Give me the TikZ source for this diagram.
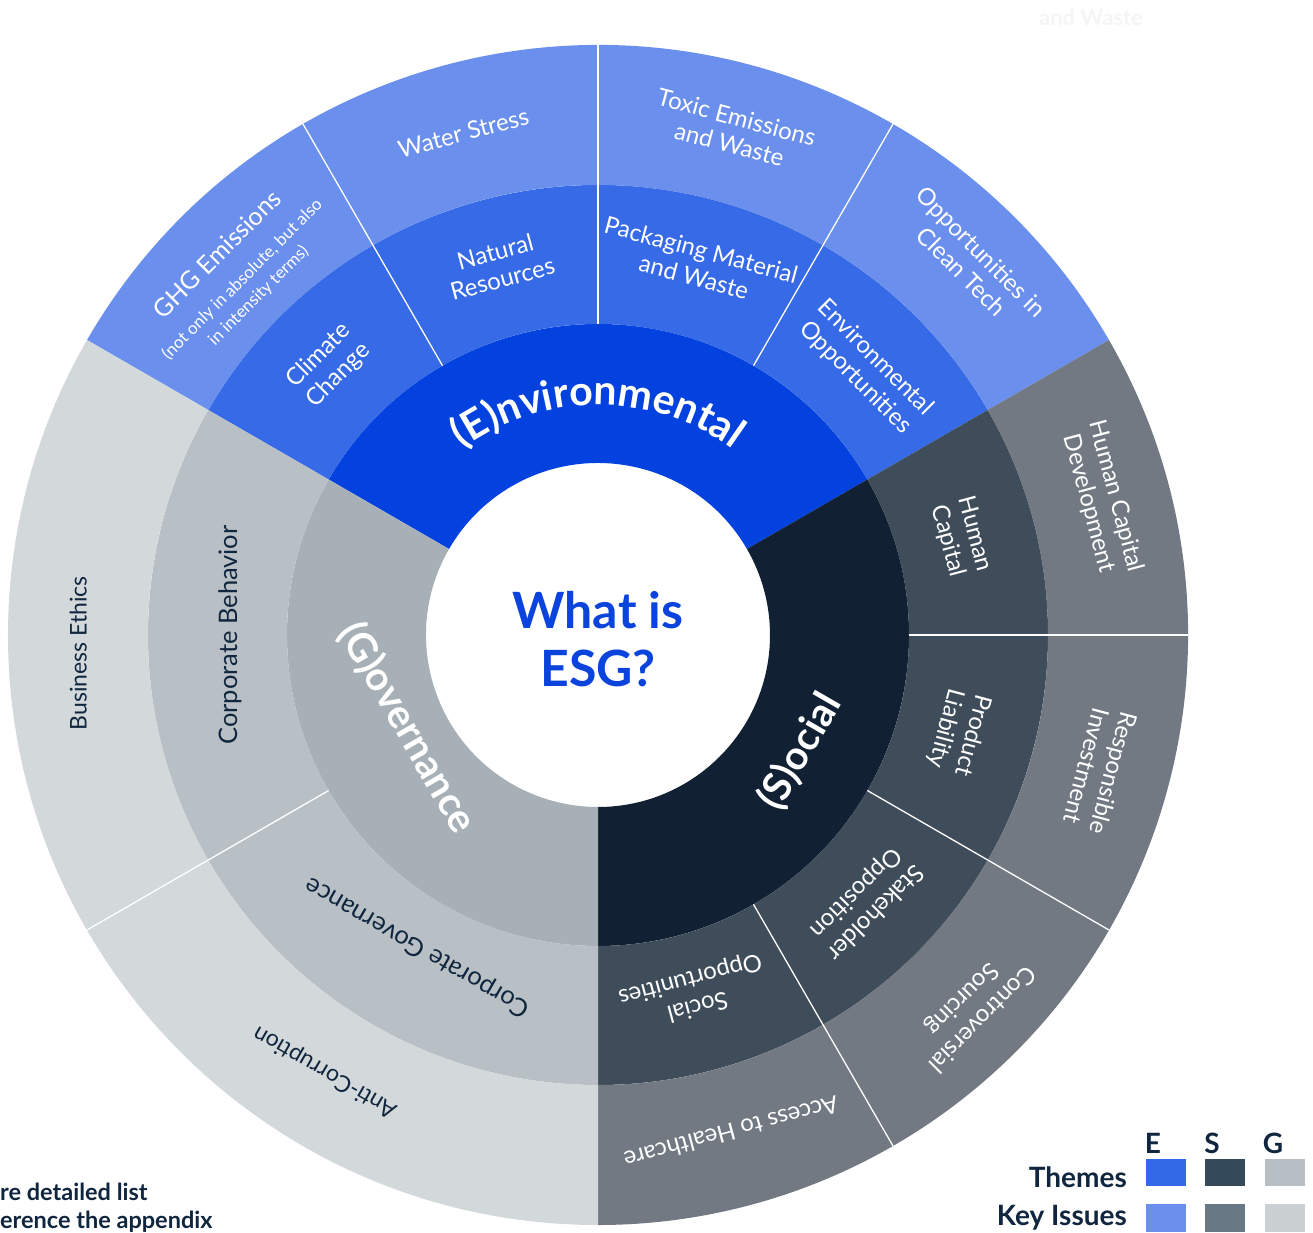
\documentclass[tikz,border=0pt]{standalone}
\usepackage{fontspec}
\setmainfont{Lato}
\usetikzlibrary{decorations.text}
\definecolor{e_pillar}{RGB}{3,66,222}
\definecolor{e_theme}{RGB}{54,106,230}
\definecolor{e_issue}{RGB}{106,143,236}
\definecolor{s_pillar}{RGB}{18,32,51}
\definecolor{s_theme}{RGB}{63,77,91}
\definecolor{s_issue}{RGB}{114,121,131}
\definecolor{g_pillar}{RGB}{167,176,182}
\definecolor{g_theme}{RGB}{184,192,197}
\definecolor{g_issue}{RGB}{211,216,219}
\definecolor{title_blue}{RGB}{10,68,220}
\definecolor{text_navy}{RGB}{16,38,62}
\definecolor{key_e_theme}{RGB}{51,104,230}
\definecolor{key_s_theme}{RGB}{52,74,90}
\definecolor{key_g_theme}{RGB}{184,191,196}
\definecolor{key_e_issue}{RGB}{106,143,236}
\definecolor{key_s_issue}{RGB}{104,120,133}
\definecolor{key_g_issue}{RGB}{203,208,211}
\definecolor{ghost}{RGB}{244,245,246}

\begin{document}
\begin{tikzpicture}[x=1pt,y=1pt]
    \tikzstyle{ringtext}=[text=white, align=center, inner sep=0pt, font=\fontsize{24}{28}\selectfont]
    \tikzstyle{g_ringtext}=[style=ringtext, text=text_navy]
    \tikzstyle{pillartext}=[text=white, inner sep=0pt, font=\fontsize{40}{44}\selectfont\bfseries]
    \tikzstyle{divider}=[white, line width=1.3pt]
    \tikzstyle{keytext}=[text=text_navy, inner sep=0pt, font=\fontsize{28}{32}\selectfont\bfseries]

    \useasboundingbox (-598,-597) rectangle (715,635);

    % rings: pillars, themes, key issues
    \fill[e_pillar] (30:172) arc[start angle=30,end angle=150,radius=172] -- (150:311) arc[start angle=150,end angle=30,radius=311] -- cycle;
    \fill[s_pillar] (-90:172) arc[start angle=-90,end angle=30,radius=172] -- (30:311) arc[start angle=30,end angle=-90,radius=311] -- cycle;
    \fill[g_pillar] (150:172) arc[start angle=150,end angle=270,radius=172] -- (270:311) arc[start angle=270,end angle=150,radius=311] -- cycle;
    \fill[e_theme] (30:311) arc[start angle=30,end angle=150,radius=311] -- (150:450) arc[start angle=150,end angle=30,radius=450] -- cycle;
    \fill[s_theme] (-90:311) arc[start angle=-90,end angle=30,radius=311] -- (30:450) arc[start angle=30,end angle=-90,radius=450] -- cycle;
    \fill[g_theme] (150:311) arc[start angle=150,end angle=270,radius=311] -- (270:450) arc[start angle=270,end angle=150,radius=450] -- cycle;
    \fill[e_issue] (30:450) arc[start angle=30,end angle=150,radius=450] -- (150:590) arc[start angle=150,end angle=30,radius=590] -- cycle;
    \fill[s_issue] (-90:450) arc[start angle=-90,end angle=30,radius=450] -- (30:590) arc[start angle=30,end angle=-90,radius=590] -- cycle;
    \fill[g_issue] (150:450) arc[start angle=150,end angle=270,radius=450] -- (270:590) arc[start angle=270,end angle=150,radius=590] -- cycle;

    % white dividers between themes
    \draw[divider] (120:311) -- (120:590);
    \draw[divider] (90:311) -- (90:590);
    \draw[divider] (60:311) -- (60:590);
    \draw[divider] (0:311) -- (0:590);
    \draw[divider] (-30:311) -- (-30:590);
    \draw[divider] (-60:311) -- (-60:590);
    \draw[divider] (210:311) -- (210:590);

    \node[text=title_blue, align=center, inner sep=0pt, font=\fontsize{50}{58}\selectfont\bfseries] (title) at (0,-4) {What is\\ESG?};

    % pillar names
    \path[decorate, decoration={text along path, text align=center, text color=white,
        text={|\fontsize{41}{44}\selectfont\bfseries|(E)nvironmental}}]
        (160:230) arc[start angle=160,end angle=20,radius=230];
    \node[pillartext, rotate=60]  (social) at (-30:233) {(S)ocial};
    \node[pillartext, rotate=-60] (gov)    at (206:212) {(G)overnance};

    % themes
    \node[ringtext, rotate=45]   (climate)   at (135:381) {Climate\\Change};
    \node[ringtext, rotate=15]   (natres)    at (105:383) {Natural\\Resources};
    \node[ringtext, rotate=-15]  (packaging) at (75:385)  {Packaging Material\\and Waste};
    \node[ringtext, rotate=-45]  (envopp)    at (45:378)  {Environmental\\Opportunities};
    \node[ringtext, rotate=-75]  (humcap)    at (15:376)  {Human\\Capital};
    \node[ringtext, rotate=-105] (prodliab)  at (-15:374) {Product\\Liability};
    \node[ringtext, rotate=-135] (stakeopp)  at (-45:378) {Stakeholder\\Opposition};
    \node[ringtext, rotate=-165] (socopp)    at (-75:370) {Social\\Opportunities};
    \node[g_ringtext, rotate=150, font=\fontsize{25.5}{28}\selectfont] (corpgov) at (240:360) {Corporate Governance};
    \node[g_ringtext, rotate=90, font=\fontsize{25.5}{28}\selectfont]  (corpbeh) at (180:368) {Corporate Behavior};

    % key issues
    \node[ringtext, rotate=45, font=\fontsize{17}{23}\selectfont] (ghg) at (135:510)
        {{\fontsize{25}{28}\selectfont GHG Emissions}\\[9pt](not only in absolute, but also\\in intensity terms)};
    \node[ringtext, rotate=15]   (water)     at (105:520) {Water Stress};
    \node[ringtext, rotate=-15]  (toxic)     at (75:522)  {Toxic Emissions\\and Waste};
    \node[ringtext, rotate=-45]  (cleantech) at (45:528)  {Opportunities in\\Clean Tech};
    \node[ringtext, rotate=-75]  (hcdev)     at (15:522)  {Human Capital\\Development};
    \node[ringtext, rotate=-105] (respinv)   at (-15:520) {Responsible\\Investment};
    \node[ringtext, rotate=-135] (contsrc)   at (-45:528) {Controversial\\Sourcing};
    \node[ringtext, rotate=-165] (access)    at (-75:515) {Access to Healthcare};
    \node[g_ringtext, rotate=150, font=\fontsize{23}{26}\selectfont] (anticorr)  at (238:515) {Anti-Corruption};
    \node[g_ringtext, rotate=90, font=\fontsize{23}{26}\selectfont]  (busethics) at (182:520) {Business Ethics};

    % cut-off texts at the edges
    \node[text=ghost, inner sep=0pt, font=\fontsize{22}{26}\selectfont\bfseries] (ghostwaste) at (493,618) {and Waste};
    \node[keytext, anchor=west, font=\fontsize{23.5}{27}\selectfont\bfseries] (note1) at (-598,-557) {re detailed list};
    \node[keytext, anchor=west, font=\fontsize{23.5}{27}\selectfont\bfseries] (note2) at (-598,-587) {erence the appendix};

    % legend
    \node[keytext] (key_e) at (555,-508) {E};
    \node[keytext] (key_s) at (614,-508) {S};
    \node[keytext] (key_g) at (675,-508) {G};
    \node[keytext, anchor=east] (key_themes) at (529,-542) {Themes};
    \node[keytext, anchor=east] (key_issues) at (529,-583) {Key Issues};
    \fill[key_e_theme] (548,-524) rectangle (588,-551);
    \fill[key_s_theme] (607,-524) rectangle (647,-551);
    \fill[key_g_theme] (667,-524) rectangle (707,-551);
    \fill[key_e_issue] (548,-569) rectangle (588,-597);
    \fill[key_s_issue] (607,-569) rectangle (647,-597);
    \fill[key_g_issue] (667,-569) rectangle (707,-597);
\end{tikzpicture}
\end{document}
